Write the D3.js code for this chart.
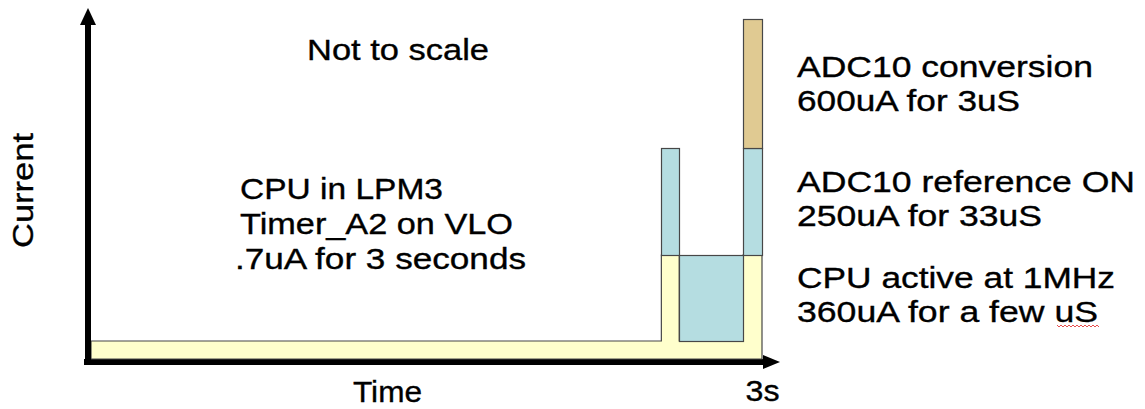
<!DOCTYPE html>
<html>
<head>
<meta charset="utf-8">
<script src="https://cdn.jsdelivr.net/npm/d3@7"></script>
<style>
  html, body { margin: 0; padding: 0; background: #fff; }
  svg { display: block; }
  text { font-family: "Liberation Sans", Arial, sans-serif; fill: #000; stroke: #000; stroke-width: 0.35px; }
</style>
</head>
<body>
<svg id="chart" width="1145" height="409"></svg>
<script>
// ---- data (schematic, "not to scale") ----
const phases     = ["LPM3 sleep", "CPU wake", "Reference settling", "Conversion"];
const phaseTimes = [0, 2.55, 2.63, 2.915, 3];      // segment boundaries, seconds (schematic)
const cpuLevel   = [1.8, 10.4, 1.8, 10.4];          // yellow layer (display units)
const refLevel   = [0, 10.7, 8.6, 10.7];            // blue layer
const convLevel  = [0, 0, 0, 12.9];                 // tan layer
const seriesKeys = ["cpu", "ref", "conv"];
const yMax       = 34;
const xTickValues = [3];
const xTickLabels = ["3s"];
const xTitle = "Time";
const yTitle = "Current";
const noteTitle = "Not to scale";
const noteLines = ["CPU in LPM3", "Timer_A2 on VLO", ".7uA for 3 seconds"];
const legendLines = [
  ["ADC10 conversion", "600uA for 3uS"],
  ["ADC10 reference ON", "250uA for 33uS"],
  ["CPU active at 1MHz", "360uA for a few uS"]
];

// ---- styles ----
const fills = { cpu: "#FFFFCC", ref: "#B5DDE1", conv: "#E0CA92" };
const edge = "#474747";

const svg = d3.select("#chart");
const x = d3.scaleLinear().domain([0, 3]).range([91, 762]);
const y = d3.scaleLinear().domain([0, yMax]).range([359, 19]);

const rows = phases.map((p, i) => ({ phase: p, cpu: cpuLevel[i], ref: refLevel[i], conv: convLevel[i] }));
const stacked = d3.stack().keys(seriesKeys)(rows);

// axes lines (thick black with arrowheads)
const axisX0 = 88, axisY0 = 362;
svg.append("line").attr("x1", axisX0 - 4).attr("x2", 766).attr("y1", axisY0).attr("y2", axisY0)
  .attr("stroke", "#000").attr("stroke-width", 6);
svg.append("path").attr("d", `M763,${axisY0 - 7}L780,${axisY0}L763,${axisY0 + 7}Z`).attr("fill", "#000");

// yellow (CPU / LPM3) layer as a single step area
const cpuPts = phaseTimes.map((t, i) => ({ t, v: stacked[0][Math.min(i, phases.length - 1)][1] }));
svg.append("path")
  .datum(cpuPts)
  .attr("d", d3.area().curve(d3.curveStepAfter).x(d => x(d.t)).y0(y(0)).y1(d => y(d.v)))
  .attr("fill", fills.cpu).attr("stroke", edge).attr("stroke-width", 1.2);

// stacked upper layers as rectangles per phase
[1, 2].forEach(k => {
  const layer = stacked[k];
  svg.append("g").selectAll("rect")
    .data(layer.map((d, i) => ({ d, i })).filter(o => o.d[1] - o.d[0] > 0))
    .join("rect")
    .attr("x", o => Math.round(x(phaseTimes[o.i])) + 0.5)
    .attr("width", o => Math.round(x(phaseTimes[o.i + 1])) - Math.round(x(phaseTimes[o.i])))
    .attr("y", o => Math.round(y(o.d[1])) + 0.5)
    .attr("height", o => Math.round(y(o.d[0])) - Math.round(y(o.d[1])))
    .attr("fill", fills[seriesKeys[k]])
    .attr("stroke", edge).attr("stroke-width", 1.2);
});

// y axis (drawn on top of the left edge of the yellow strip)
svg.append("line").attr("x1", axisX0).attr("x2", axisX0).attr("y1", 365).attr("y2", 22)
  .attr("stroke", "#000").attr("stroke-width", 6);
svg.append("path").attr("d", `M${axisX0 - 8},25L${axisX0},8L${axisX0 + 8},25Z`).attr("fill", "#000");

// x-axis tick label through d3 axis
const xAxis = d3.axisBottom(x).tickValues(xTickValues).tickSize(0)
  .tickFormat((d, i) => xTickLabels[i]);
const gx = svg.append("g").attr("transform", "translate(0,372)").call(xAxis);
gx.select(".domain").remove();
gx.selectAll("text").attr("font-size", 30).attr("dy", 0).attr("y", 29)
  .attr("font-family", "Liberation Sans, Arial, sans-serif").attr("fill", "#000")
  .attr("textLength", 34).attr("lengthAdjust", "spacingAndGlyphs");

function txt(str, xPos, yPos, w, size) {
  return svg.append("text").attr("x", xPos).attr("y", yPos).attr("font-size", size || 30)
    .attr("textLength", w).attr("lengthAdjust", "spacingAndGlyphs").text(str);
}

// titles
txt(xTitle, 353, 402, 69);
svg.append("text").attr("transform", "translate(33,190.5) rotate(-90)")
  .attr("text-anchor", "middle").attr("font-size", 30)
  .attr("textLength", 115).attr("lengthAdjust", "spacingAndGlyphs").text(yTitle);

// annotations
txt(noteTitle, 307, 60, 182);
const noteW = [203, 273, 291], noteX = [240, 240, 235];
noteLines.forEach((s, i) => txt(s, noteX[i], 199 + i * 35, noteW[i]));

const legW = [[296, 223], [338, 245], [318, 301]];
const legY = [77, 192, 288];
legendLines.forEach((pair, j) => pair.forEach((s, i) => txt(s, 797, legY[j] + i * 34, legW[j][i])));

// spell-check squiggle under "uS"
let sq = "M1057,325";
for (let xx = 1059, k = 0; xx <= 1099; xx += 2, k++) sq += `L${xx},${k % 2 ? 325 : 327}`;
svg.append("path").attr("d", sq).attr("fill", "none").attr("stroke", "#e02020").attr("stroke-width", 0.8);
</script>
</body>
</html>
